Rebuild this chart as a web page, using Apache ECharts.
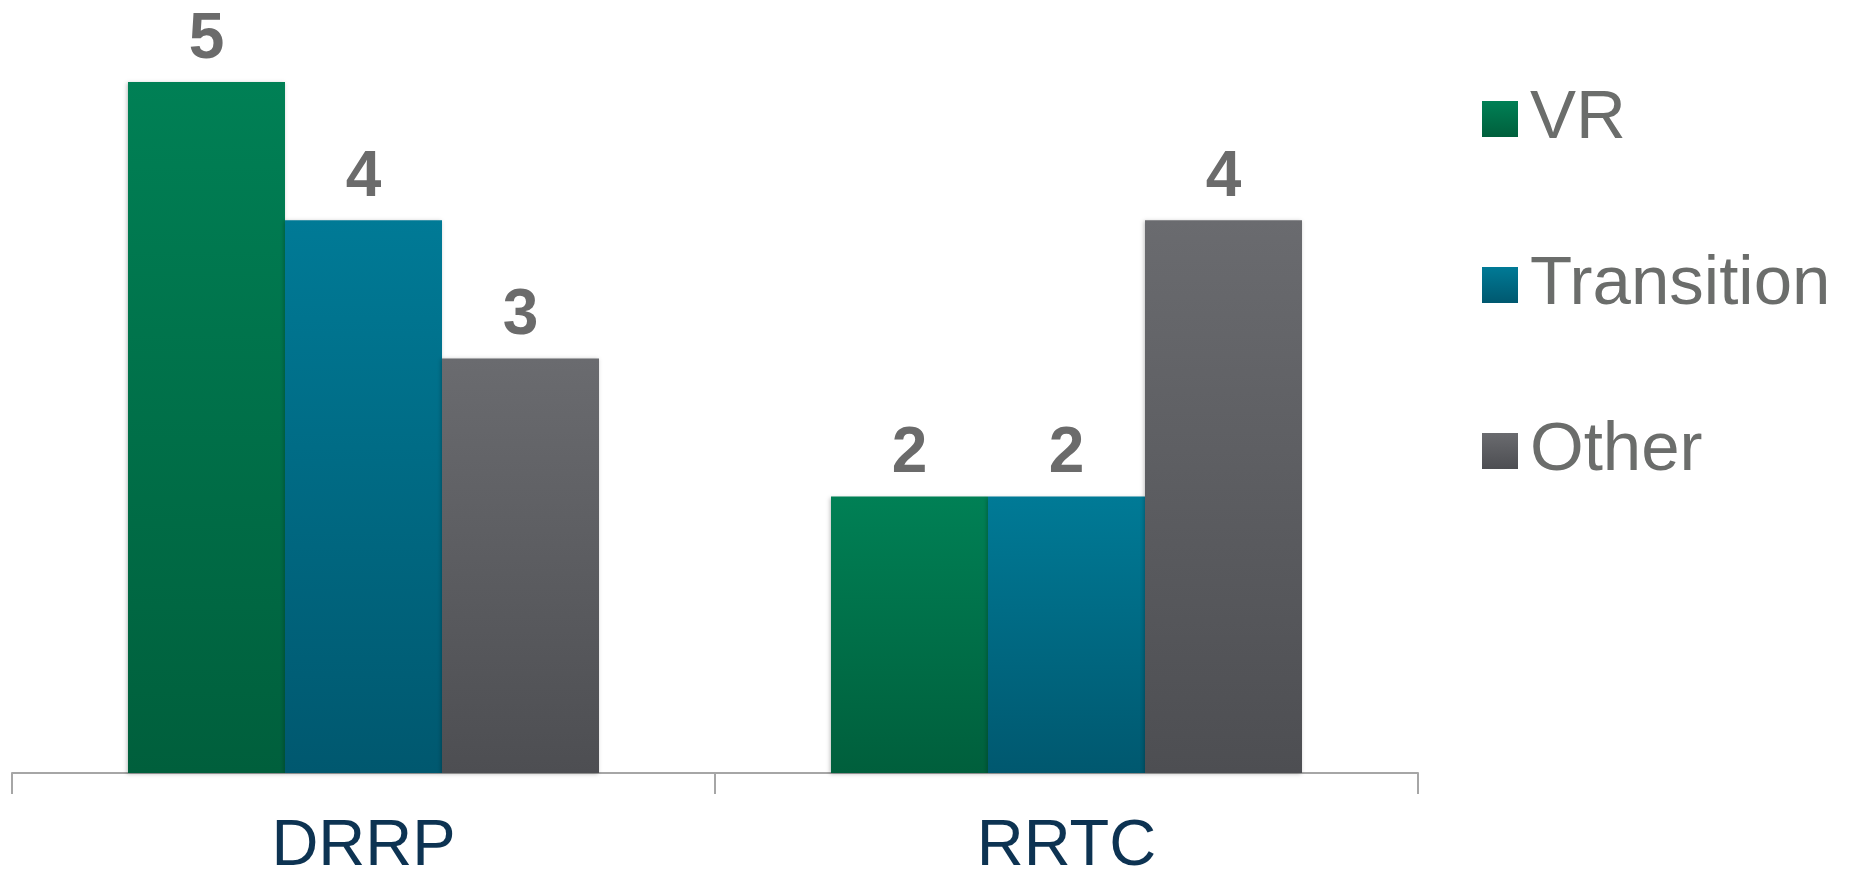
<!DOCTYPE html>
<html><head><meta charset="utf-8">
<script src="https://cdn.jsdelivr.net/npm/echarts@6/dist/echarts.min.js"></script>
<style>html,body{margin:0;padding:0;background:#fff}#c{width:1851px;height:874px}</style>
</head><body><div id="c"></div>
<script>
const categories = ['DRRP', 'RRTC'];
const seriesNames = ['VR', 'Transition', 'Other'];
const vrValues = [5, 2];
const transitionValues = [4, 2];
const otherValues = [3, 4];

const grads = [
  ['#008055', '#005F3C'],
  ['#007A96', '#00586F'],
  ['#6A6B6F', '#4D4E52']
];
function grad(c) {
  return new echarts.graphic.LinearGradient(0, 0, 0, 1, [{offset: 0, color: c[0]}, {offset: 1, color: c[1]}]);
}
const FONT = '"Liberation Sans", Arial, sans-serif';
const dataSets = [vrValues, transitionValues, otherValues];
const chart = echarts.init(document.getElementById('c'));
chart.setOption({
  animation: false,
  grid: {left: 12, right: 433, top: 82, bottom: 101, containLabel: false, outerBoundsMode: 'none'},
  legend: {
    orient: 'vertical', left: 1477, top: 77, itemWidth: 36, itemHeight: 36, itemGap: 92,
    icon: 'rect',
    textStyle: {fontFamily: FONT, fontSize: 69, lineHeight: 70, color: '#6B6D6B', padding: [0, 0, 4, 7]},
    data: seriesNames
  },
  xAxis: {
    type: 'category', data: categories,
    axisLine: {lineStyle: {color: '#A6A6A6', width: 2}},
    axisTick: {show: true, length: 21, lineStyle: {color: '#A6A6A6', width: 2}},
    axisLabel: {fontFamily: FONT, fontSize: 65, color: '#0D3352', margin: 42}
  },
  yAxis: {type: 'value', min: 0, max: 5, show: false, splitLine: {show: false}},
  series: seriesNames.map((n, i) => ({
    name: n, type: 'bar', data: dataSets[i],
    barGap: '0%', barCategoryGap: '33%',
    itemStyle: {color: grad(grads[i]), shadowColor: 'rgba(0,0,0,0.25)', shadowBlur: 4, shadowOffsetX: -1, shadowOffsetY: 1},
    label: {show: true, position: 'top', distance: 10, fontFamily: FONT, fontWeight: 'bold', fontSize: 64, color: '#6B6B6B'}
  }))
});
</script></body></html>
